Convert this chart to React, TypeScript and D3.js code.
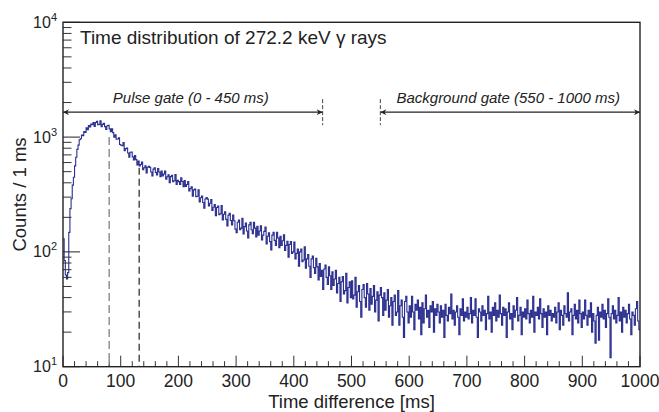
import React from "react";
import * as d3 from "d3";

// ---- data ----
const BIN_WIDTH = 2; // ms per listed value
const counts: number[] = [
  130, 84, 63, 58, 66, 148, 238, 290, 382, 447, 561, 668, 781, 851, 947, 968, 1043, 1031, 1117, 1098, 1203, 1161, 1262, 1228, 1297,
  1283, 1337, 1239, 1342, 1370, 1284, 1292, 1385, 1234, 1292, 1319, 1233, 1165, 1256, 1266, 1180, 1114, 1180, 1093, 997, 1048, 960, 964, 988, 863,
  850, 840, 898, 760, 793, 801, 727, 669, 737, 740, 672, 631, 690, 636, 571, 619, 561, 577, 606, 520, 540, 562, 488, 546, 558,
  545, 496, 458, 526, 540, 493, 469, 532, 497, 451, 506, 458, 477, 506, 430, 451, 469, 401, 453, 464, 409, 417, 471, 386, 420,
  409, 387, 443, 411, 369, 419, 372, 387, 411, 340, 356, 369, 305, 347, 353, 302, 305, 347, 272, 296, 307, 269, 240, 289, 298,
  288, 251, 265, 286, 230, 245, 258, 207, 244, 251, 211, 215, 253, 190, 213, 224, 192, 168, 209, 217, 188, 172, 209, 187, 158,
  147, 181, 189, 156, 161, 196, 143, 166, 178, 152, 132, 172, 181, 156, 144, 181, 161, 135, 167, 140, 152, 169, 127, 140, 151,
  165, 117, 137, 147, 123, 104, 140, 148, 126, 114, 148, 132, 109, 137, 114, 125, 141, 103, 114, 124, 90, 116, 123, 97, 100,
  122, 87, 97, 106, 75, 100, 106, 82, 85, 111, 72, 87, 95, 75, 60, 87, 92, 73, 65, 88, 74, 57, 79, 61, 69,
  47, 71, 77, 60, 52, 74, 62, 47, 67, 51, 58, 69, 44, 53, 60, 37, 55, 61, 43, 46, 65, 36, 49, 55, 40,
  56, 39, 42, 60, 33, 45, 51, 37, 27, 47, 52, 40, 33, 53, 43, 31, 48, 35, 41, 51, 30, 38, 45, 25, 42,
  49, 40, 28, 44, 31, 38, 47, 27, 34, 40, 23, 37, 42, 28, 30, 46, 23, 34, 38, 27, 18, 37, 41, 30, 24,
  34, 27, 41, 30, 21, 35, 31, 38, 26, 33, 19, 36, 24, 32, 42, 27, 31, 22, 34, 30, 37, 20, 32, 28, 35,
  30, 24, 34, 27, 31, 18, 35, 28, 25, 33, 29, 43, 26, 31, 23, 30, 34, 27, 19, 32, 28, 39, 25, 30, 27,
  33, 26, 29, 40, 24, 31, 28, 39, 27, 18, 32, 30, 25, 34, 28, 31, 21, 29, 41, 26, 30, 20, 33, 28, 36,
  25, 31, 27, 42, 29, 23, 33, 28, 32, 18, 30, 36, 26, 29, 21, 34, 27, 31, 40, 25, 28, 33, 19, 30, 27,
  32, 26, 38, 29, 24, 31, 27, 41, 20, 30, 28, 33, 26, 39, 29, 22, 32, 27, 30, 19, 34, 28, 31, 25, 29,
  27, 33, 24, 30, 36, 21, 31, 28, 23, 34, 29, 27, 44, 25, 30, 32, 19, 28, 35, 26, 31, 24, 38, 29, 22,
  30, 26, 38, 28, 23, 31, 27, 36, 20, 29, 25, 16, 28, 33, 17, 30, 27, 35, 26, 31, 22, 29, 39, 27, 12,
  29, 34, 26, 31, 24, 28, 40, 25, 30, 20, 33, 27, 31, 24, 29, 35, 26, 19, 30, 28, 23, 32, 37, 25, 21,
];

const xTickValues = [0, 100, 200, 300, 400, 500, 600, 700, 800, 900, 1000];
const yDecades = [1, 2, 3, 4];
const markerTimes = [80, 132];
const markerCounts = [1000, 540];
const gates = [
  { label: "Pulse gate (0 - 450 ms)", from: 0, to: 450 },
  { label: "Background gate (550 - 1000 ms)", from: 550, to: 1000 },
];
const gateLevel = 1650;
const title = "Time distribution of 272.2 keV \u03b3 rays";
const xTitle = "Time difference [ms]";
const yTitle = "Counts / 1 ms";

// ---- layout ----
const W = 659;
const H = 412;
const L = 63;
const R = 640;
const T = 22.3;
const B = 366.7;
const FONT = "'Liberation Sans', Arial, Helvetica, sans-serif";
const LINE = "#2a2e8e";

export default function App() {
  const x = d3.scaleLinear().domain([0, 1000]).range([L, R]);
  const y = d3.scaleLog().domain([10, 10000]).range([B, T]);

  const pts: [number, number][] = counts.map((c, i) => [i * BIN_WIDTH, c]);
  pts.push([counts.length * BIN_WIDTH, counts[counts.length - 1]]);
  const line = d3
    .line<[number, number]>()
    .x((d) => x(d[0]))
    .y((d) => y(d[1]))
    .curve(d3.curveStepAfter);

  const xMinor = d3.range(0, 1001, 20);
  const yMinor: number[] = [];
  for (let e = 1; e < 4; e++) for (let m = 2; m <= 9; m++) yMinor.push(m * Math.pow(10, e));

  const gy = y(gateLevel);

  return (
    <svg width={W} height={H} style={{ position: "absolute", left: 0, top: 0, background: "#fff" }} fontFamily={FONT}>
      <defs>
        <clipPath id="plotclip">
          <rect x={L} y={T} width={R - L} height={B - T} />
        </clipPath>
        <marker id="ah" viewBox="0 0 10 10" refX="10" refY="5" markerWidth="10" markerHeight="6" orient="auto-start-reverse" markerUnits="userSpaceOnUse">
          <path d="M0,0 L10,5 L0,10 L3,5 Z" fill="#222" />
        </marker>
      </defs>

      {/* histogram */}
      <path d={line(pts) || ""} fill="none" stroke={LINE} strokeWidth={1.1} clipPath="url(#plotclip)" />

      {/* marker dashed lines */}
      {markerTimes.map((t, i) => (
        <line
          key={t}
          x1={x(t)}
          x2={x(t)}
          y1={y(markerCounts[i])}
          y2={B}
          stroke={i === 0 ? "#777" : "#222"}
          strokeWidth={1.2}
          strokeDasharray={i === 0 ? "8,4" : "7,4"}
        />
      ))}

      {/* gates */}
      {gates.map((g, i) => (
        <g key={g.label}>
          <line x1={x(g.from)} x2={x(g.to)} y1={gy} y2={gy} stroke="#222" strokeWidth={1.2} markerStart="url(#ah)" markerEnd="url(#ah)" />
          <text x={(x(g.from) + x(g.to)) / 2 - 2} y={gy - 9.5} textAnchor="middle" fontSize={15} fontStyle="italic" fill="#222">
            {g.label}
          </text>
          <line
            x1={x(i === 0 ? g.to : g.from)}
            x2={x(i === 0 ? g.to : g.from)}
            y1={gy - 13}
            y2={gy + 13}
            stroke="#444"
            strokeWidth={1}
            strokeDasharray="4,2"
          />
        </g>
      ))}

      {/* y ticks */}
      {yMinor.map((v) => (
        <line key={"ym" + v} x1={L} x2={L + 8.5} y1={y(v)} y2={y(v)} stroke="#333" strokeWidth={1} />
      ))}
      {yDecades.map((e) => (
        <line key={"yM" + e} x1={L} x2={L + 17} y1={y(Math.pow(10, e))} y2={y(Math.pow(10, e))} stroke="#222" strokeWidth={1} />
      ))}
      {yDecades.map((e) => (
        <text key={"yl" + e} x={L - 6} y={y(Math.pow(10, e)) + 5.5} textAnchor="end" fontSize={16} fill="#222">
          10
          <tspan fontSize={11} dy={-7}>
            {e}
          </tspan>
        </text>
      ))}

      {/* x ticks */}
      {xMinor.map((v) => (
        <line key={"xm" + v} x1={x(v)} x2={x(v)} y1={B} y2={B - (v % 100 === 0 ? 11 : 5.5)} stroke="#333" strokeWidth={1} />
      ))}
      {xTickValues.map((v) => (
        <text key={"xl" + v} x={x(v)} y={386.5} textAnchor="middle" fontSize={17.5} fill="#222">
          {v}
        </text>
      ))}

      {/* frame */}
      <rect x={L} y={T} width={R - L} height={B - T} fill="none" stroke="#222" strokeWidth={1.4} />

      {/* texts */}
      <text x={80} y={43.5} fontSize={19} fill="#222">
        {title}
      </text>
      <text x={(L + R) / 2} y={408} textAnchor="middle" fontSize={18.5} fill="#222">
        {xTitle}
      </text>
      <text transform={`translate(26,${(T + B) / 2}) rotate(-90)`} textAnchor="middle" fontSize={18.5} fill="#222">
        {yTitle}
      </text>
    </svg>
  );
}
